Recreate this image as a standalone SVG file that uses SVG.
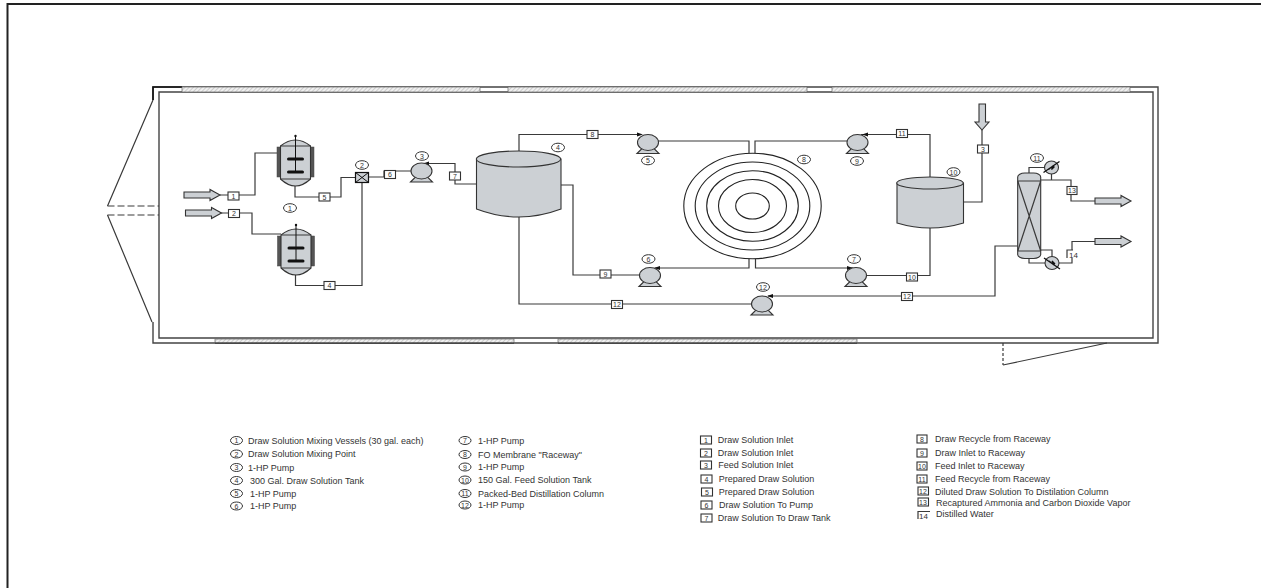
<svg xmlns="http://www.w3.org/2000/svg" width="1261" height="588" viewBox="0 0 1261 588">
<style>
text{font-family:"Liberation Sans",Arial,sans-serif;fill:#333}
.t{font-size:9px}
.n{font-size:7px;text-anchor:middle}
.l{fill:none;stroke:#3a3a3a;stroke-width:1.2}
.w{fill:none;stroke:#444;stroke-width:1.4}
.g{fill:#ccd0d4;stroke:#333;stroke-width:1.100}
.b{fill:#fff;stroke:#333;stroke-width:1.100}
.c{fill:#fff;stroke:#333;stroke-width:1}
.h{fill:url(#hatch);stroke:#666;stroke-width:.7}
.d{fill:#555;stroke:#444;stroke-width:.5}
</style>
<defs>
<pattern id="hatch" width="3" height="3" patternUnits="userSpaceOnUse" patternTransform="rotate(45)">
<rect width="3" height="3" fill="#f0f0f0"/><line x1="0" y1="0" x2="0" y2="3" stroke="#aaa" stroke-width="1"/>
</pattern>
<g id="pump"><path class="g" d="M-11 11 L-5 5 H5 L11 11 Z" fill="#aaa"/><ellipse class="g" cx="0" cy="0" rx="10.500" ry="8"/></g>
<g id="arrowR"><path class="g" d="M0 -3 H26 V-5.500 L36 0 L26 5.500 V3 H0 Z"/></g>
<g id="vessel"><rect class="d" x="-18.500" y="-14" width="3.500" height="30"/><rect class="d" x="15" y="-14" width="3.500" height="30"/>
<path class="g" d="M-15 -15 Q0 -27 15 -15 V18 Q0 32 -15 18 Z"/><path class="l" d="M-15 -15 H15 M-15 18 H15"/>
<path d="M0 -25 V12" stroke="#111" stroke-width="1" fill="none"/><circle cx="0" cy="-25" r="1.200" fill="#111"/><path d="M-7 -2 H7 M-7 11 H7" stroke="#111" stroke-width="3" stroke-linecap="round"/></g>
<g id="cond"><ellipse class="g" cx="0" cy="0" rx="7" ry="6.500"/><path d="M-8 5 L8 -6 M-3 2 L2 -2 L0 2 L3 -1" stroke="#111" fill="none" stroke-width="1.300"/></g>
</defs>
<path d="M7.500 588 V4 H1261" fill="none" stroke="#222" stroke-width="2"/>
<g id="building">
<path class="w" d="M159 92 H1153 V338 H159 Z"/>
<path class="w" d="M153 100 V87 H1158 V343 H153 V322"/>
<path d="M153 100 V87 H182" fill="none" stroke="#111" stroke-width="1.600"/>
<path class="l" d="M153 100 L107.500 206 M107.500 215 L152 322"/>
<path class="l" stroke-dasharray="7 3" d="M107.500 206 H159 M107.500 215 H159"/>
<path class="l" stroke-dasharray="3 2" d="M1003 343 V365"/>
<path class="l" d="M1003 365 L1107 343"/>
<rect class="h" x="182" y="87" width="298" height="5"/><rect class="h" x="508" y="87" width="299" height="5"/><rect class="h" x="832" y="87" width="298" height="5"/>
<rect class="h" x="215" y="339" width="299" height="4"/><rect class="h" x="558" y="339" width="299" height="4"/>
<path d="M215 343 H514 M558 343 H857" stroke="#222" stroke-width="1.200" fill="none"/>
</g>
<g id="connectors">
<path class="l" d="M220 195 H255 V153 H279"/>
<path class="l" d="M220 213 H252 V234 H281"/>
<path class="l" d="M295 186 V197 H341 V177.500 H355"/>
<path class="l" d="M295.500 271 V285.500 H362 V182"/>
<path class="l" d="M368 177 H384 V171 H412"/>
<path class="l" d="M425 163.500 H455 V184 H476"/>
<path class="l" d="M519 151 V134.500 H640"/>
<path class="l" d="M658 141 H749 V153"/>
<path class="l" d="M755 153 V141 H848"/>
<path class="l" d="M861 134.500 H930 V177"/>
<path class="l" d="M749 259 V268 H655"/>
<path class="l" d="M755.500 259 V268 H853"/>
<path class="l" d="M561 185 H573 V275 H640"/>
<path class="l" d="M866 275.500 H930 V228"/>
<path class="l" d="M963 202 H982 V130"/>
<path class="l" d="M768 296 H995 V246 H1017.500"/>
<path class="l" d="M752 304 H519 V217"/>
<path class="l" d="M1029 173 V167.500 H1045"/>
<path class="l" d="M1051.500 174 V180 M1040.500 180 H1071 V201 H1095"/>
<path class="l" d="M1040.500 250 H1052 V257"/>
<path class="l" d="M1029 258 V263 H1046"/>
<path class="l" d="M1058 263 H1072 V241.500 H1095"/>
<path fill="#111" stroke="none" d="M423 163.500 l6 -2 v4 Z M643 134.500 l-6 -2 v4 Z M862 134.500 l6 -2 v4 Z M654 268 l6 -2 v4 Z M853 268 l-6 -2 v4 Z M767 296 l6 -2 v4 Z"/>
</g>
<g id="arrows">
<use href="#arrowR" x="184" y="195"/><use href="#arrowR" x="185.500" y="213"/>
<use href="#arrowR" x="1095" y="201"/><use href="#arrowR" x="1095" y="241.500"/>
<path class="g" d="M979 104 H985.500 V122 H989 L982 130 L975 122 H979 Z"/>
</g>
<g id="v1"><use href="#vessel" x="295.500" y="161"/></g>
<g id="v2"><use href="#vessel" x="296" y="250"/></g>
<g id="mix"><rect x="355.500" y="172.500" width="13" height="10" fill="#ccd0d4" stroke="#111" stroke-width="1.200"/><path stroke="#111" d="M355.500 172.500 L368.500 182.500 M368.500 172.500 L355.500 182.500"/></g>
<g id="p3"><use href="#pump" x="421.500" y="171"/></g>
<g id="t4"><path class="g" d="M476.500 159 V209 Q518.500 225 561 209 V159 Z"/><ellipse class="g" cx="518.500" cy="159" rx="42.200" ry="8"/></g>
<g id="p5"><use href="#pump" x="648" y="142.500"/></g>
<g id="p6"><use href="#pump" x="650" y="275.500"/></g>
<g id="p9"><use href="#pump" x="857.500" y="142.500"/></g>
<g id="p7"><use href="#pump" x="856" y="275.500"/></g>
<g id="p12"><use href="#pump" x="762" y="304"/></g>
<g id="raceway" fill="none" stroke="#222" stroke-width="1.100">
<ellipse cx="752.500" cy="206" rx="68.700" ry="52.800"/><ellipse cx="752.500" cy="206" rx="57.300" ry="44"/><ellipse cx="752.500" cy="206" rx="45.800" ry="35.300"/><ellipse cx="752.500" cy="206" rx="34" ry="26.500"/><ellipse cx="752.500" cy="206" rx="16.800" ry="13"/>
</g>
<g id="t10"><path class="g" d="M897 183 V223 Q930 233 963.500 223 V183 Z"/><ellipse class="g" cx="930" cy="183" rx="33.300" ry="6"/></g>
<g id="column"><rect class="g" x="1017.700" y="173" width="23" height="85.500" rx="7" ry="4"/><path class="l" d="M1017.700 181 H1040.700 M1017.700 251 H1040.700 M1017.700 181 L1040.700 251 M1040.700 181 L1017.700 251"/></g>
<g id="c1"><use href="#cond" x="1051.500" y="167.500"/></g>
<g id="c2"><use href="#cond" transform="translate(1052 263) scale(1 -1)"/></g>
<g id="streams">
<g><rect class="b" x="228" y="192" width="11" height="8"/><text class="n" x="233.500" y="198.500">1</text></g>
<g><rect class="b" x="228.500" y="209.500" width="11" height="8"/><text class="n" x="234" y="216">2</text></g>
<g><rect class="b" x="977.500" y="145" width="11" height="8"/><text class="n" x="983" y="151.500">3</text></g>
<g><rect class="b" x="324" y="281.500" width="11" height="8"/><text class="n" x="329.500" y="288">4</text></g>
<g><rect class="b" x="319" y="193" width="11" height="8"/><text class="n" x="324.500" y="199.500">5</text></g>
<g><rect class="b" x="384.500" y="170.500" width="11" height="8"/><text class="n" x="390" y="177">6</text></g>
<g><rect class="b" x="449.500" y="172" width="11" height="8"/><text class="n" x="455" y="178.500">7</text></g>
<g><rect class="b" x="587" y="130.500" width="11" height="8"/><text class="n" x="592.500" y="137">8</text></g>
<g><rect class="b" x="600" y="270" width="11" height="8"/><text class="n" x="605.500" y="276.500">9</text></g>
<g><rect class="b" x="906.500" y="273" width="11" height="8"/><text class="n" x="912" y="279.500">10</text></g>
<g><rect class="b" x="896.500" y="129.500" width="11" height="8"/><text class="n" x="902" y="136">11</text></g>
<g><rect class="b" x="611.500" y="300.500" width="11" height="8"/><text class="n" x="617" y="307">12</text></g>
<g><rect class="b" x="901.500" y="292.500" width="11" height="8"/><text class="n" x="907" y="299">12</text></g>
<g><rect class="b" x="1067" y="186.500" width="10" height="8"/><text class="n" x="1072" y="193">13</text></g>
<g><rect x="1067" y="250" width="12" height="8" fill="#fff"/><path class="l" d="M1067 258 V250 H1073"/><text x="1073.500" y="257.500" font-size="8" text-anchor="middle">14</text></g>
</g>
<g id="labels">
<g><ellipse class="c" cx="290" cy="208" rx="6.500" ry="4.300"/><text class="n" x="290" y="210.500">1</text></g>
<g><ellipse class="c" cx="362" cy="165" rx="6.500" ry="4.300"/><text class="n" x="362" y="167.500">2</text></g>
<g><ellipse class="c" cx="422" cy="156" rx="6.500" ry="4.300"/><text class="n" x="422" y="158.500">3</text></g>
<g><ellipse class="c" cx="558" cy="147.500" rx="6.500" ry="4.300"/><text class="n" x="558" y="150">4</text></g>
<g><ellipse class="c" cx="648" cy="160.500" rx="6.500" ry="4.300"/><text class="n" x="648" y="163">5</text></g>
<g><ellipse class="c" cx="648.500" cy="259" rx="6.500" ry="4.300"/><text class="n" x="648.500" y="261.500">6</text></g>
<g><ellipse class="c" cx="854" cy="259" rx="6.500" ry="4.300"/><text class="n" x="854" y="261.500">7</text></g>
<g><ellipse class="c" cx="804" cy="159.500" rx="6.500" ry="4.300"/><text class="n" x="804" y="162">8</text></g>
<g><ellipse class="c" cx="857" cy="161" rx="6.500" ry="4.300"/><text class="n" x="857" y="163.500">9</text></g>
<g><ellipse class="c" cx="953.500" cy="172" rx="6.500" ry="4.300"/><text class="n" x="953.500" y="174.500">10</text></g>
<g><ellipse class="c" cx="1037" cy="158" rx="6.500" ry="4.300"/><text class="n" x="1037" y="160.500">11</text></g>
<g><ellipse class="c" cx="763" cy="287" rx="6.500" ry="4.300"/><text class="n" x="763" y="289.500">12</text></g>
</g>
<g id="legend">
<g><ellipse class="c" cx="236.500" cy="440.500" rx="6" ry="4"/><text class="n" x="236.500" y="443">1</text><text class="t" x="248" y="443.700">Draw Solution Mixing Vessels (30 gal. each)</text></g>
<g><ellipse class="c" cx="236.500" cy="454" rx="6" ry="4"/><text class="n" x="236.500" y="456.500">2</text><text class="t" x="248" y="457.200">Draw Solution Mixing Point</text></g>
<g><ellipse class="c" cx="236.500" cy="467.500" rx="6" ry="4"/><text class="n" x="236.500" y="470">3</text><text class="t" x="248" y="470.700">1-HP Pump</text></g>
<g><ellipse class="c" cx="236.500" cy="480.500" rx="6" ry="4"/><text class="n" x="236.500" y="483">4</text><text class="t" x="250" y="483.700">300 Gal. Draw Solution Tank</text></g>
<g><ellipse class="c" cx="236.500" cy="493.500" rx="6" ry="4"/><text class="n" x="236.500" y="496">5</text><text class="t" x="250" y="496.700">1-HP Pump</text></g>
<g><ellipse class="c" cx="236.500" cy="506" rx="6" ry="4"/><text class="n" x="236.500" y="508.500">6</text><text class="t" x="250" y="509.200">1-HP Pump</text></g>
<g><ellipse class="c" cx="465" cy="440.500" rx="6" ry="4"/><text class="n" x="465" y="443">7</text><text class="t" x="478" y="443.700">1-HP Pump</text></g>
<g><ellipse class="c" cx="465" cy="454.500" rx="6" ry="4"/><text class="n" x="465" y="457">8</text><text class="t" x="478" y="457.700">FO Membrane "Raceway"</text></g>
<g><ellipse class="c" cx="465" cy="467" rx="6" ry="4"/><text class="n" x="465" y="469.500">9</text><text class="t" x="478" y="470.200">1-HP Pump</text></g>
<g><ellipse class="c" cx="465" cy="480" rx="6" ry="4"/><text class="n" x="465" y="482.500">10</text><text class="t" x="478" y="483.200">150 Gal. Feed Solution Tank</text></g>
<g><ellipse class="c" cx="465" cy="493.500" rx="6" ry="4"/><text class="n" x="465" y="496">11</text><text class="t" x="478" y="496.700">Packed-Bed Distillation Column</text></g>
<g><ellipse class="c" cx="465" cy="505" rx="6" ry="4"/><text class="n" x="465" y="507.500">12</text><text class="t" x="478" y="508.200">1-HP Pump</text></g>
<g><rect class="b" x="700.500" y="436" width="11" height="8"/><text class="n" x="706" y="442.500">1</text><text class="t" x="717.700" y="443">Draw Solution Inlet</text></g>
<g><rect class="b" x="700.500" y="449" width="11" height="8"/><text class="n" x="706" y="455.500">2</text><text class="t" x="717.700" y="456">Draw Solution Inlet</text></g>
<g><rect class="b" x="700.500" y="461" width="11" height="8"/><text class="n" x="706" y="467.500">3</text><text class="t" x="718.300" y="467.800">Feed Solution Inlet</text></g>
<g><rect class="b" x="701" y="475" width="11" height="8"/><text class="n" x="706.500" y="481.500">4</text><text class="t" x="718.700" y="482">Prepared Draw Solution</text></g>
<g><rect class="b" x="701.500" y="488" width="11" height="8"/><text class="n" x="707" y="494.500">5</text><text class="t" x="718.700" y="495">Prepared Draw Solution</text></g>
<g><rect class="b" x="701" y="501" width="11" height="8"/><text class="n" x="706.500" y="507.500">6</text><text class="t" x="719" y="508">Draw Solution To Pump</text></g>
<g><rect class="b" x="701" y="514" width="11" height="8"/><text class="n" x="706.500" y="520.500">7</text><text class="t" x="717.700" y="521">Draw Solution To Draw Tank</text></g>
<g><rect class="b" x="917" y="435" width="10" height="8"/><text class="n" x="922" y="441.500">8</text><text class="t" x="935" y="442">Draw Recycle from Raceway</text></g>
<g><rect class="b" x="917" y="449" width="10" height="8"/><text class="n" x="922" y="455.500">9</text><text class="t" x="935" y="456">Draw Inlet to Raceway</text></g>
<g><rect class="b" x="917" y="462" width="10" height="8"/><text class="n" x="922" y="468.500">10</text><text class="t" x="935" y="469">Feed Inlet to Raceway</text></g>
<g><rect class="b" x="917" y="475" width="10" height="8"/><text class="n" x="922" y="481.500">11</text><text class="t" x="935" y="481.500">Feed Recycle from Raceway</text></g>
<g><rect class="b" x="918" y="487" width="10.500" height="8"/><text class="n" x="923" y="493.500">12</text><text class="t" x="935" y="494.500">Diluted Draw Solution To Distilation Column</text></g>
<g><rect class="b" x="918" y="498" width="10.500" height="8"/><text class="n" x="923" y="504.500">13</text><text class="t" x="936" y="505.500">Recaptured Ammonia and Carbon Dioxide Vapor</text></g>
<g><path class="l" d="M918 519 V511.500 H930"/><text x="923.500" y="519" font-size="8" text-anchor="middle">14</text><text class="t" x="936" y="517">Distilled Water</text></g>
</g>
</svg>
